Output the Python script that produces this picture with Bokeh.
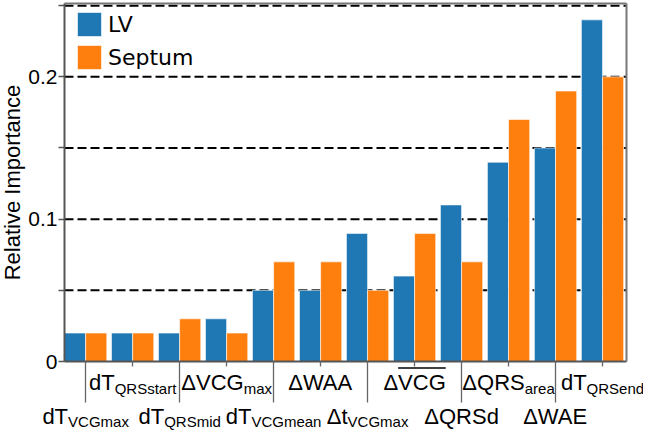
from bokeh.plotting import figure
from bokeh.models import (FixedTicker, Legend, LegendItem, Range1d, ColumnDataSource,
                          CustomJSTickFormatter, LinearAxis)
from bokeh.core.properties import value
from bokeh.embed import file_html
from bokeh.resources import INLINE

# ---------------- data ----------------
label_main = ["dT", "dT", "dT", "ΔVCG", "dT", "ΔWAA",
              "Δt", "ΔVCG", "ΔQRSd", "ΔQRS", "ΔWAE", "dT"]
label_sub = ["VCGmax", "QRSstart", "QRSmid", "max", "VCGmean", "",
             "VCGmax", "", "", "area", "", "QRSend"]
label_overline = [False, False, False, False, False, False,
                  False, True, False, False, False, False]
lv = [0.02, 0.02, 0.02, 0.03, 0.05, 0.05, 0.09, 0.06, 0.11, 0.14, 0.15, 0.24]
septum = [0.02, 0.02, 0.03, 0.02, 0.07, 0.07, 0.05, 0.09, 0.07, 0.17, 0.19, 0.20]
series_names = ["LV", "Septum"]
y_ticks = [0, 0.05, 0.1, 0.15, 0.2, 0.25]
y_tick_labels = ["0", "", "0.1", "", "0.2", ""]
y_title = "Relative Importance"

# ---------------- layout (pixels) ----------------
W, H = 643, 431
ML, MR, MT = 64, 17, 3          # plot box position inside the canvas
FH = 358                        # plot box height
FW = W - ML - MR
X_END = 11.96
Y_TOP = 0.2515
PPU = FW / X_END                # px per category unit
SY = FH / Y_TOP                 # px per value unit
BAR_W = 0.45
BLUE, ORANGE = "#1f77b4", "#ff7f0e"
FONT = "Liberation Sans"
MAIN_SIZE, SUB_SIZE = 22, 15
LONG_TICK = 41
TOP_MAIN, TOP_SUB = 27, 33       # wanted baselines, px below the zero line
BOT_MAIN, BOT_SUB = 60.5, 66
TEXT_SHIFT = 6                   # text glyphs render this much lower than asked
AXIS_COL = "#555555"

ADV = {'a': 556, 'd': 556, 'e': 556, 'i': 222, 'm': 833, 'n': 556, 'r': 333,
       's': 500, 't': 278, 'x': 500, 'A': 667, 'C': 722, 'E': 667, 'G': 778,
       'Q': 778, 'R': 722, 'S': 667, 'T': 611, 'V': 667, 'W': 944, 'Δ': 668}


def text_w(s, size):
    return sum(ADV.get(c, 556) for c in s) / 1000.0 * size


n = len(lv)
centers = [i + BAR_W for i in range(n)]
even, odd = centers[0::2], centers[1::2]

src = ColumnDataSource(dict(
    x_lv=[i + BAR_W / 2 for i in range(n)],
    x_se=[i + BAR_W * 1.5 for i in range(n)],
    lv=lv, septum=septum))

# the frame covers the whole canvas; the plot box is drawn by fixed-location axes
p = figure(width=W, height=H,
           x_range=Range1d(-ML / PPU, X_END + MR / PPU),
           y_range=Range1d(-(H - MT - FH) / SY, Y_TOP + MT / SY),
           title=None, output_backend="svg", toolbar_location=None,
           x_axis_location=None, y_axis_location=None,
           min_border_left=0, min_border_right=0, min_border_top=0, min_border_bottom=0,
           background_fill_color="white", border_fill_color="white")
p.grid.visible = False
p.outline_line_color = None

# dashed horizontal grid lines limited to the plot box (drawn below the bars)
grid_y = y_ticks[1:]
p.segment(x0=[0] * len(grid_y), x1=[X_END] * len(grid_y), y0=grid_y, y1=grid_y,
          line_color="black", line_dash="9 4", line_width=2)

r_lv = p.vbar(x="x_lv", top="lv", width=BAR_W, source=src, fill_color=BLUE,
              line_color="white", line_alpha=0.6, line_width=1)
r_se = p.vbar(x="x_se", top="septum", width=BAR_W, source=src, fill_color=ORANGE,
              line_color="white", line_alpha=0.6, line_width=1)

blank = CustomJSTickFormatter(code="return ''")

# y axis
yaxis = LinearAxis(fixed_location=0, bounds=(0, Y_TOP),
                   ticker=FixedTicker(ticks=y_ticks, minor_ticks=[]),
                   major_label_overrides={t: lab for t, lab in zip(y_ticks, y_tick_labels)},
                   major_tick_out=6, major_tick_in=0, minor_tick_out=0, minor_tick_in=0,
                   major_label_standoff=1, major_label_text_font=FONT,
                   major_label_text_font_size="21px", major_label_text_color="black",
                   axis_line_color=AXIS_COL, axis_line_width=2,
                   major_tick_line_color=AXIS_COL, major_tick_line_width=1.5,
                   axis_label=y_title, axis_label_text_font=FONT,
                   axis_label_text_font_size="22px", axis_label_text_font_style="normal",
                   axis_label_text_color="black", axis_label_standoff=0)
p.add_layout(yaxis, "left")

# x axis: long ticks at even groups, short at odd groups
xaxis = LinearAxis(fixed_location=0, bounds=(0, X_END),
                   ticker=FixedTicker(ticks=even, minor_ticks=odd), formatter=blank,
                   major_label_text_font_size="0px", major_label_standoff=0,
                   major_tick_out=LONG_TICK, major_tick_in=0,
                   minor_tick_out=5, minor_tick_in=0,
                   axis_line_color=AXIS_COL, axis_line_width=2,
                   major_tick_line_color="#666666", major_tick_line_width=1.3,
                   minor_tick_line_color="#666666", minor_tick_line_width=1.3)
p.add_layout(xaxis, "below")

# box lines (top and right)
for loc, place, bnds in ((X_END, "right", (0, Y_TOP)), (Y_TOP, "above", (0, X_END))):
    p.add_layout(LinearAxis(fixed_location=loc, bounds=bnds,
                            ticker=FixedTicker(ticks=[], minor_ticks=[]), formatter=blank,
                            major_label_text_font_size="0px",
                            major_tick_out=0, major_tick_in=0,
                            minor_tick_out=0, minor_tick_in=0,
                            axis_line_color="#777777", axis_line_width=2), place)

# category labels with subscripts
main_d = dict(x=[], y=[], xo=[], text=[])
sub_d = dict(x=[], y=[], xo=[], text=[])
ov = dict(x0=[], x1=[], y=[])
for i in range(n):
    top_row = (i % 2 == 1)
    ym, ys = (TOP_MAIN, TOP_SUB) if top_row else (BOT_MAIN, BOT_SUB)
    mw = text_w(label_main[i], MAIN_SIZE)
    sw = text_w(label_sub[i], SUB_SIZE)
    left = -(mw + sw) / 2
    main_d["x"].append(centers[i]); main_d["y"].append(-(ym - TEXT_SHIFT) / SY)
    main_d["xo"].append(left); main_d["text"].append(label_main[i])
    if label_sub[i]:
        sub_d["x"].append(centers[i]); sub_d["y"].append(-(ys - TEXT_SHIFT) / SY)
        sub_d["xo"].append(left + mw); sub_d["text"].append(label_sub[i])
    if label_overline[i]:
        dw = text_w(label_main[i][0], MAIN_SIZE)
        ov["x0"].append(centers[i] + (left + dw) / PPU)
        ov["x1"].append(centers[i] + (left + mw) / PPU)
        ov["y"].append(-(ym - 0.93 * MAIN_SIZE) / SY)

p.text(x="x", y="y", text="text", x_offset="xo", source=ColumnDataSource(main_d),
       text_font=value(FONT), text_font_size=value(f"{MAIN_SIZE}px"),
       text_align="left", text_baseline="alphabetic", text_color="black")
p.text(x="x", y="y", text="text", x_offset="xo", source=ColumnDataSource(sub_d),
       text_font=value(FONT), text_font_size=value(f"{SUB_SIZE}px"),
       text_align="left", text_baseline="alphabetic", text_color="black")
p.segment(x0="x0", y0="y", x1="x1", y1="y", source=ColumnDataSource(ov),
          line_color="black", line_width=1.5)

legend = Legend(items=[LegendItem(label=series_names[0], renderers=[r_lv]),
                       LegendItem(label=series_names[1], renderers=[r_se])],
                location=(74, H - 9 - 63), padding=0, margin=0, spacing=3,
                glyph_width=30, glyph_height=30, label_standoff=4,
                label_text_font="DejaVu Sans", label_text_font_size="22px",
                label_text_color="black",
                border_line_alpha=0, background_fill_alpha=0)
p.add_layout(legend)

open("out.html", "w").write(file_html(p, INLINE))
